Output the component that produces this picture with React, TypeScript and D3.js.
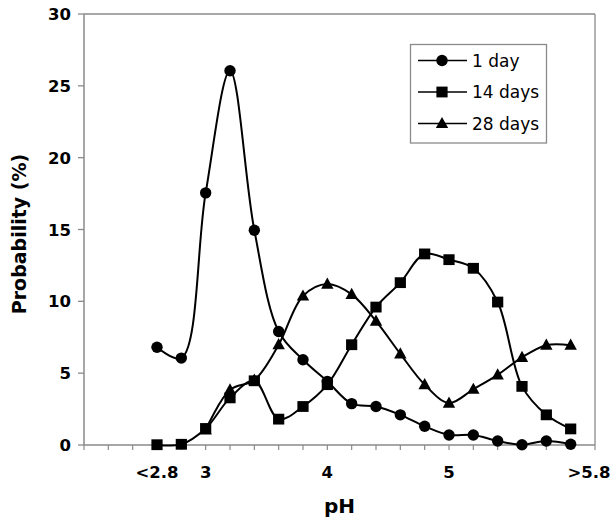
import React from "react";
import * as d3 from "d3";

const phValues = [2.6, 2.8, 3.0, 3.2, 3.4, 3.6, 3.8, 4.0, 4.2, 4.4, 4.6, 4.8, 5.0, 5.2, 5.4, 5.6, 5.8, 6.0];
const day1 = [6.8, 6.05, 17.55, 26.05, 14.95, 7.9, 5.93, 4.43, 2.88, 2.68, 2.1, 1.3, 0.7, 0.7, 0.28, 0.02, 0.28, 0.05];
const day14 = [0.02, 0.05, 1.15, 3.28, 4.47, 1.8, 2.68, 4.2, 6.98, 9.6, 11.3, 13.3, 12.9, 12.3, 9.95, 4.08, 2.1, 1.12];
const day28 = [null, null, 1.05, 3.84, 4.52, 6.98, 10.37, 11.2, 10.48, 8.62, 6.34, 4.2, 2.92, 3.88, 4.88, 6.1, 6.95, 6.95];
const seriesNames = ["1 day", "14 days", "28 days"];
const markerTypes = ["circle", "square", "triangle"];
const yTicks = [0, 5, 10, 15, 20, 25, 30];
const xLabelValues = [2.6, 3, 4, 5, 6.15];
const xLabelTexts = ["<2.8", "3", "4", "5", ">5.8"];
const xMinorTicks = [2.0, 2.2, 2.4, 2.6, 2.8, 3.0, 3.2, 3.4, 3.6, 3.8, 4.0, 4.2, 4.4, 4.6, 4.8, 5.0, 5.2, 5.4, 5.6, 5.8, 6.0, 6.2];

const W = 614;
const H = 525;
const left = 84;
const right = 595;
const top = 14;
const bottom = 445;

function Marker({ type, x, y }: { type: string; x: number; y: number }) {
  if (type === "circle") return <circle cx={x} cy={y} r={5.7} fill="#000" />;
  if (type === "square") return <rect x={x - 5.6} y={y - 5.4} width={11.2} height={10.8} fill="#000" />;
  return <path d={`M${x - 6.2},${y + 4.6}L${x},${y - 6.6}L${x + 6.2},${y + 4.6}Z`} fill="#000" />;
}

export default function App() {
  const x = d3.scaleLinear().domain([2.0, 6.2]).range([left, right]);
  const y = d3.scaleLinear().domain([0, 30]).range([bottom, top]);
  const all = [day1, day14, day28];
  const line = d3
    .line<[number, number | null]>()
    .defined((d) => d[1] !== null)
    .x((d) => x(d[0]))
    .y((d) => y(d[1] as number))
    .curve(d3.curveCatmullRom.alpha(0.5));

  const font = "'DejaVu Sans', sans-serif";
  return (
    <svg width={W} height={H} style={{ position: "absolute", left: 0, top: 0, background: "#fff" }}>
      <rect x={0} y={0} width={W} height={H} fill="#fff" />
      <line x1={left} x2={right} y1={top} y2={top} stroke="#8a8a8a" strokeWidth={1.3} />
      <line x1={right} x2={right} y1={top} y2={bottom} stroke="#8a8a8a" strokeWidth={1.3} />
      <line x1={left} x2={left} y1={top} y2={bottom} stroke="#8a8a8a" strokeWidth={1.5} />
      <line x1={left} x2={right} y1={bottom} y2={bottom} stroke="#8a8a8a" strokeWidth={1.5} />
      {yTicks.map((t) => (
        <g key={t}>
          <line x1={left - 6} x2={left} y1={y(t)} y2={y(t)} stroke="#8a8a8a" strokeWidth={1.3} />
          <text x={71} y={y(t) + 6} textAnchor="end" fontFamily={font} fontWeight="bold" fontSize={16.5} fill="#000">
            {t}
          </text>
        </g>
      ))}
      {xMinorTicks.map((t, i) => (
        <line key={i} x1={x(t)} x2={x(t)} y1={bottom} y2={bottom + 5} stroke="#8a8a8a" strokeWidth={1.2} />
      ))}
      {xLabelValues.map((v, i) => (
        <text key={i} x={x(v)} y={478} textAnchor="middle" fontFamily={font} fontWeight="bold" fontSize={16.5} fill="#000">
          {xLabelTexts[i]}
        </text>
      ))}
      <text x={(left + right) / 2} y={513} textAnchor="middle" fontFamily={font} fontWeight="bold" fontSize={20} fill="#000">
        pH
      </text>
      <text
        transform={`translate(25.5,234) rotate(-90)`}
        textAnchor="middle"
        fontFamily={font}
        fontWeight="bold"
        fontSize={19}
        fill="#000"
      >
        Probability (%)
      </text>
      {all.map((s, si) => {
        const pts: [number, number | null][] = phValues.map((p, i) => [p, s[i]]);
        return (
          <g key={si}>
            <path d={line(pts) || ""} fill="none" stroke="#000" strokeWidth={2} />
            {pts
              .filter((d) => d[1] !== null)
              .map((d, i) => (
                <Marker key={i} type={markerTypes[si]} x={x(d[0])} y={y(d[1] as number)} />
              ))}
          </g>
        );
      })}
      <rect x={410.5} y={44.5} width={136} height={98.5} fill="#fff" stroke="#8a8a8a" strokeWidth={1.3} />
      {seriesNames.map((n, i) => {
        const cy = 60.5 + i * 31.5;
        return (
          <g key={n}>
            <line x1={418} x2={467} y1={cy} y2={cy} stroke="#000" strokeWidth={1.7} />
            <Marker type={markerTypes[i]} x={442} y={cy} />
            <text x={472} y={cy + 6} fontFamily={font} fontSize={17} fill="#000">
              {n}
            </text>
          </g>
        );
      })}
    </svg>
  );
}
